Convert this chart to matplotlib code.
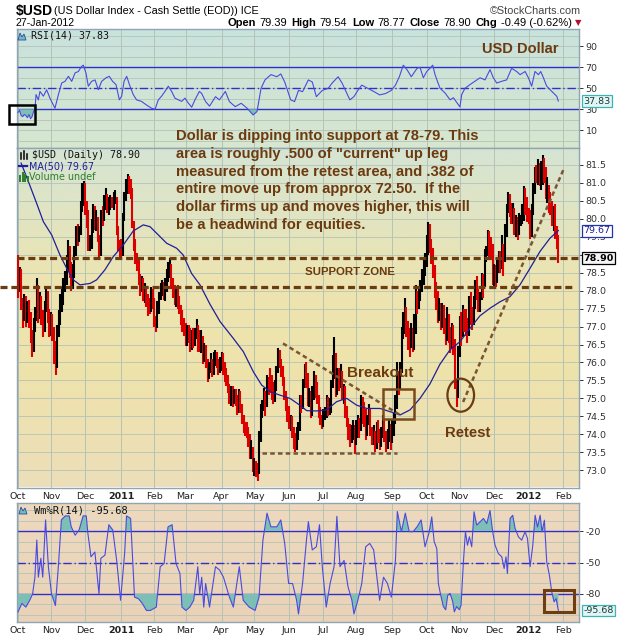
import numpy as np
import pandas as pd
import matplotlib
matplotlib.use("Agg")
import matplotlib.pyplot as plt
from matplotlib.patches import Rectangle, Ellipse, Polygon
from matplotlib.lines import Line2D
from matplotlib.text import Annotation
from matplotlib.colors import to_rgb

W_PX, H_PX, DPI = 620, 639, 100

# ---------------- data ----------------
trade_days = pd.bdate_range("2010-10-01", "2012-01-27")

close = [
    78.10,
    78.45, 77.60, 77.30, 77.65, 77.35,
    77.45, 77.25, 76.70, 76.40, 77.00,
    77.30, 78.10, 77.35, 77.70, 77.25,
    76.95, 77.55, 77.95, 77.30, 76.90,
    77.15, 76.80, 76.40, 75.95, 76.85,
    77.30, 77.75, 77.85, 78.20, 78.35,
    78.85, 79.00, 78.60, 78.30, 78.45,
    79.05, 79.75, 79.45, 79.60, 80.35,
    80.80, 80.95, 80.25, 80.05, 79.20,
    79.35, 79.85, 80.20, 79.95, 80.05,
    79.45, 79.05, 80.10, 80.05, 80.50,
    80.60, 80.35, 80.40, 80.50, 80.45,
    80.55, 80.65, 79.70, 79.35, 79.05,
    79.00, 80.05, 80.65, 81.00, 81.15,
    80.95, 80.70, 79.85, 79.20, 78.95,
    78.85, 78.30, 78.05, 78.30, 77.85,
    78.05, 77.70, 77.60, 77.55, 78.00,
    77.70, 77.10, 76.95, 77.60, 77.90,
    78.05, 78.15, 77.90, 78.10, 78.35,
    78.60, 78.70, 78.20, 77.95, 77.70,
    77.85, 77.75, 77.45, 77.30, 77.00,
    76.95, 76.60, 76.85, 76.75, 76.40,
    76.70, 76.55, 76.80, 77.00, 76.65,
    76.50, 76.65, 76.20, 76.35, 76.00,
    75.70, 75.85, 75.95, 75.80, 76.05,
    76.20, 76.00, 75.85, 75.95, 76.15,
    75.90, 75.70, 75.55, 75.30, 74.95,
    75.20, 74.95, 75.10, 75.05, 74.70,
    75.15, 74.75, 74.45, 74.30, 74.15,
    74.10, 73.85, 73.55, 73.60, 73.05,
    73.10, 73.00, 72.95, 73.95, 74.60,
    74.80, 75.05, 74.80, 75.55, 75.45,
    75.40, 75.20, 75.05, 75.30, 75.75,
    76.20, 76.05, 75.80, 75.55, 75.10,
    74.85, 74.60, 74.25, 74.40, 74.05,
    73.85, 73.70, 74.05, 74.20, 74.95,
    74.80, 75.40, 75.85, 75.55, 74.95,
    75.05, 74.60, 75.10, 75.55, 75.20,
    75.00, 74.60, 74.40, 74.30, 74.50,
    74.65, 74.90, 74.70, 74.85, 75.30,
    75.95, 76.10, 75.20, 75.70, 75.35,
    75.65, 75.05, 75.25, 74.60, 74.40,
    74.15, 73.90, 74.05, 74.20, 73.65,
    74.10, 74.35, 74.15, 74.90, 74.65,
    74.60, 74.05, 74.35, 74.65, 74.10,
    73.90, 74.00, 73.75, 74.15, 74.00,
    73.80, 74.05, 74.30, 73.95, 73.70,
    73.95, 74.20, 73.90, 74.15, 74.35,
    74.85, 75.60, 75.35, 75.80, 76.85,
    77.10, 77.45, 77.00, 76.65, 76.45,
    76.80, 76.55, 76.95, 77.90, 77.65,
    77.85, 78.15, 78.45, 78.65, 78.90,
    79.25, 79.55, 79.35, 78.95, 78.65,
    77.95, 77.80, 77.25, 77.55, 77.05,
    77.45, 77.00, 76.70, 77.25, 76.90,
    76.55, 76.75, 76.50, 75.40, 75.05,
    76.20, 76.95, 76.80, 77.35, 77.20,
    77.10, 76.85, 77.65, 77.40, 77.15,
    77.70, 78.10, 77.95, 77.55, 77.75,
    78.30, 78.10, 79.00, 79.05, 79.50,
    79.35, 79.05, 78.35, 78.45, 78.40,
    78.70, 78.95, 78.75, 79.35, 78.70,
    79.55, 80.25, 80.60, 80.25, 80.15,
    80.20, 79.80, 79.90, 79.70, 79.95,
    80.00, 80.15, 80.65, 80.35, 80.20,
    80.10, 79.65, 80.25, 80.85, 81.30,
    81.20, 81.35, 81.15, 81.35, 81.45,
    81.30, 80.75, 80.85, 80.40, 80.35,
    79.95, 80.20, 79.60, 79.39, 78.90,
]

high = [
    79.00,
    78.65, 78.60, 77.80, 77.90, 77.85,
    77.70, 77.75, 77.40, 76.90, 77.25,
    77.55, 78.35, 78.15, 77.95, 77.85,
    77.45, 77.70, 78.10, 78.00, 77.50,
    77.40, 77.35, 77.00, 76.60, 77.05,
    77.45, 77.90, 78.10, 78.35, 78.55,
    79.00, 79.40, 79.25, 78.80, 78.75,
    79.25, 79.80, 79.85, 79.80, 80.50,
    81.00, 81.05, 81.00, 80.50, 80.25,
    79.55, 80.00, 80.40, 80.35, 80.25,
    80.05, 79.55, 80.25, 80.35, 80.65,
    80.85, 80.70, 80.60, 80.65, 80.60,
    80.75, 80.80, 80.60, 79.80, 79.40,
    79.45, 80.15, 80.75, 81.10, 81.25,
    81.20, 81.10, 80.85, 79.95, 79.45,
    79.05, 78.90, 78.45, 78.40, 78.35,
    78.20, 78.10, 77.90, 77.80, 78.10,
    78.05, 77.80, 77.30, 77.70, 77.95,
    78.20, 78.30, 78.25, 78.35, 78.60,
    78.80, 78.90, 78.75, 78.35, 78.15,
    78.10, 78.15, 77.85, 77.60, 77.45,
    77.25, 77.10, 77.05, 77.05, 76.95,
    76.90, 76.95, 76.95, 77.20, 77.05,
    76.90, 76.90, 76.75, 76.55, 76.50,
    76.10, 76.00, 76.25, 76.10, 76.30,
    76.35, 76.30, 76.10, 76.15, 76.30,
    76.25, 76.00, 75.85, 75.65, 75.40,
    75.35, 75.35, 75.25, 75.25, 75.10,
    75.25, 75.20, 74.85, 74.55, 74.35,
    74.35, 74.20, 74.00, 73.85, 73.65,
    73.35, 73.25, 73.20, 74.10, 74.85,
    74.95, 75.30, 75.20, 75.65, 75.60,
    75.85, 75.65, 75.45, 75.50, 75.90,
    76.40, 76.35, 76.10, 75.90, 75.60,
    75.20, 75.00, 74.80, 74.55, 74.50,
    74.20, 74.05, 74.20, 74.35, 75.10,
    75.10, 75.55, 75.95, 76.00, 75.70,
    75.30, 75.20, 75.35, 75.75, 75.65,
    75.45, 75.10, 74.75, 74.55, 74.70,
    74.75, 75.10, 75.05, 75.00, 75.50,
    76.20, 76.70, 76.25, 75.85, 75.85,
    75.95, 75.75, 75.40, 75.35, 74.80,
    74.45, 74.30, 74.25, 74.40, 74.25,
    74.40, 74.55, 74.45, 75.10, 75.05,
    74.90, 74.70, 74.55, 74.85, 74.70,
    74.20, 74.25, 74.10, 74.35, 74.40,
    74.15, 74.20, 74.55, 74.45, 74.10,
    74.15, 74.40, 74.30, 74.40, 74.60,
    75.10, 76.00, 75.75, 76.00, 77.00,
    77.40, 77.80, 77.55, 77.15, 76.95,
    77.10, 76.95, 77.35, 78.15, 78.00,
    78.10, 78.30, 78.60, 78.90, 79.05,
    79.55, 79.90, 79.85, 79.45, 79.20,
    78.70, 78.25, 78.00, 77.80, 77.65,
    77.65, 77.60, 77.25, 77.55, 77.35,
    77.00, 77.10, 77.05, 76.65, 75.55,
    76.45, 77.30, 77.40, 77.60, 77.50,
    77.50, 77.25, 77.85, 77.95, 77.55,
    77.85, 78.30, 78.40, 78.05, 77.95,
    78.50, 78.45, 79.15, 79.25, 79.70,
    79.65, 79.50, 79.30, 78.75, 78.70,
    78.90, 79.10, 79.10, 79.55, 79.30,
    79.85, 80.40, 80.75, 80.70, 80.45,
    80.45, 80.30, 80.10, 80.05, 80.15,
    80.10, 80.40, 80.90, 80.85, 80.60,
    80.30, 80.25, 80.40, 81.00, 81.45,
    81.50, 81.65, 81.55, 81.60, 81.78,
    81.70, 81.45, 81.15, 80.95, 80.75,
    80.50, 80.35, 80.40, 79.80, 79.54,
]

low = [
    77.80,
    77.95, 77.45, 76.95, 77.15, 77.00,
    77.10, 76.95, 76.55, 76.15, 76.30,
    76.85, 77.15, 77.10, 77.20, 77.05,
    76.70, 76.85, 77.40, 77.10, 76.70,
    76.75, 76.60, 75.95, 75.65, 75.85,
    76.70, 77.05, 77.40, 77.60, 77.95,
    78.15, 78.55, 78.35, 78.00, 78.05,
    78.35, 78.95, 79.25, 79.35, 79.55,
    80.20, 80.35, 80.10, 79.75, 79.10,
    79.10, 79.15, 79.60, 79.70, 79.65,
    79.35, 78.85, 78.95, 79.80, 79.95,
    80.25, 80.15, 80.10, 80.25, 80.30,
    80.25, 80.40, 79.55, 79.10, 78.90,
    78.90, 78.95, 79.95, 80.50, 80.70,
    80.70, 80.55, 79.75, 79.10, 78.75,
    78.55, 78.15, 77.85, 77.95, 77.70,
    77.65, 77.55, 77.30, 77.35, 77.40,
    77.50, 77.00, 76.85, 76.95, 77.35,
    77.75, 77.85, 77.75, 77.70, 77.95,
    78.25, 78.35, 78.05, 77.80, 77.60,
    77.55, 77.50, 77.35, 77.05, 76.85,
    76.75, 76.45, 76.45, 76.55, 76.30,
    76.35, 76.40, 76.45, 76.65, 76.30,
    76.30, 76.25, 75.95, 76.00, 75.85,
    75.45, 75.55, 75.70, 75.60, 75.65,
    75.90, 75.85, 75.65, 75.70, 75.75,
    75.65, 75.45, 75.35, 75.15, 74.85,
    74.80, 74.75, 74.85, 74.80, 74.55,
    74.60, 74.60, 74.30, 74.05, 73.95,
    73.90, 73.65, 73.30, 73.30, 72.95,
    72.85, 72.80, 72.70, 72.90, 73.80,
    74.45, 74.65, 74.50, 74.75, 75.10,
    75.15, 74.95, 74.85, 74.90, 75.20,
    75.70, 75.85, 75.60, 75.35, 74.95,
    74.65, 74.35, 74.15, 74.10, 73.90,
    73.60, 73.50, 73.55, 73.85, 74.10,
    74.60, 74.70, 75.30, 75.30, 74.80,
    74.75, 74.45, 74.50, 74.95, 75.00,
    74.85, 74.45, 74.25, 74.15, 74.20,
    74.40, 74.45, 74.50, 74.55, 74.60,
    75.30, 75.55, 75.05, 75.10, 75.20,
    75.30, 74.95, 74.85, 74.45, 74.20,
    73.85, 73.65, 73.75, 73.85, 73.45,
    73.70, 73.90, 73.90, 74.10, 74.30,
    74.20, 73.85, 73.95, 74.25, 73.95,
    73.70, 73.70, 73.50, 73.60, 73.75,
    73.55, 73.65, 73.90, 73.80, 73.50,
    73.60, 73.80, 73.55, 73.75, 73.95,
    74.30, 74.70, 75.10, 75.25, 75.70,
    76.65, 76.80, 76.70, 76.35, 76.15,
    76.40, 76.30, 76.35, 76.80, 77.35,
    77.50, 77.70, 77.95, 78.15, 78.40,
    78.65, 79.00, 79.05, 78.75, 78.35,
    77.80, 77.45, 77.10, 77.15, 76.90,
    76.95, 76.80, 76.50, 76.60, 76.55,
    76.25, 76.40, 76.20, 75.25, 74.75,
    75.00, 76.15, 76.45, 76.70, 76.85,
    76.75, 76.55, 76.75, 77.05, 76.90,
    77.05, 77.50, 77.75, 77.40, 77.40,
    77.75, 77.80, 78.10, 78.80, 78.95,
    78.85, 78.85, 78.15, 78.10, 78.10,
    78.20, 78.50, 78.50, 78.60, 78.40,
    78.80, 79.50, 80.15, 80.05, 79.85,
    79.85, 79.55, 79.50, 79.40, 79.55,
    79.80, 79.85, 79.95, 80.10, 79.90,
    79.85, 79.45, 79.50, 80.10, 80.70,
    81.00, 80.95, 80.90, 80.80, 80.95,
    81.00, 80.55, 80.45, 80.15, 80.10,
    79.80, 79.65, 79.45, 79.15, 78.77,
]
last_open = 79.39

# 50-day moving average (trading-day index, value)
ma_days = [2, 6.6, 11.9, 16.2, 21.5, 26.8, 31.1, 35.3, 39.6, 46, 50.2, 55.5, 60.9,
           67.2, 73.6, 80, 84.3, 89.6, 94.9, 101.3, 105.5, 110.8, 116.2, 122.6, 129,
           137.5, 143.9, 150.3, 155.6, 160.9, 167.3, 173.7, 180, 184.3, 190.7, 197.1,
           203.5, 209.9, 216.3, 222.7, 231.2, 237.6, 244, 250.3, 256.7, 263, 269.4,
           275.8, 282.2, 288.6, 295, 301.4, 307.8, 314.1, 320.5, 326.9, 333.3, 339.7, 345]
ma_vals = [81.55, 81.04, 80.43, 79.92, 79.55, 78.99, 78.62, 78.30, 78.16, 78.20, 78.30,
           78.58, 78.95, 79.27, 79.66, 79.83, 79.78, 79.55, 79.32, 79.18, 78.99, 78.48,
           78.16, 77.62, 77.14, 76.67, 76.30, 75.74, 75.37, 75.19, 75.09, 75.00, 74.81,
           74.66, 74.65, 74.68, 74.91, 75.00, 74.81, 74.72, 74.72, 74.63, 74.54, 74.68,
           75.00, 75.40, 75.95, 76.35, 76.58, 76.95, 77.30, 77.51, 77.69, 77.83, 78.16,
           78.62, 79.09, 79.46, 79.67]

# RSI(14)
rsi_days = [0, 1, 2, 3, 4, 5, 6, 7, 8, 9, 10, 10.9, 11.5, 13, 14, 16.2, 18.3, 20.4,
            23.6, 25.8, 27.9, 30, 32.2, 34.3, 36.4, 38.5, 40.7, 41.7, 43.4, 44.9, 47,
            49.2, 51.3, 53.4, 56.2, 58.3, 60.4, 62.6, 64.7, 66.2, 67.7, 69.4, 71.5,
            73.6, 75.7, 78.9, 82.1, 85.3, 87.5, 89.6, 91.7, 93.8, 96, 98.1, 100.2,
            102.4, 104.5, 106.6, 108.7, 110.9, 113, 115.8, 117.3, 119.8, 122.3, 126.1,
            128.6, 132.4, 135, 138.7, 142.5, 146.3, 150.1, 152.6, 155.2, 157.7, 161.5,
            165.3, 167.8, 170.3, 174.1, 176.6, 179.1, 181.7, 185.4, 187.9, 190.5,
            194.3, 198.1, 200.6, 204.4, 206.9, 209.4, 211.9, 214.5, 217, 219.5, 223.3,
            227.1, 230.9, 234.7, 238.4, 241, 243.5, 246, 248.5, 251.1, 254.8, 256.7,
            258.8, 261, 263, 264.8, 266.3, 267.8, 269.5, 272.7, 275.9, 278, 282.2,
            283.3, 285.4, 288.6, 291.8, 295, 298.2, 301.4, 303.5, 305.7, 308.9, 312,
            315.2, 318.4, 320.6, 323.8, 325.9, 328, 330.1, 332.3, 333.8, 335.5, 337.6,
            339.7, 341.9, 344, 345]
rsi_vals = [27, 29, 24, 23, 25, 24, 22, 25, 21, 23, 28, 31, 44, 39, 47, 42.5, 48.6, 40.6,
            31, 44, 55, 56.6, 61.4, 56.6, 64.6, 66, 71, 72, 64.6, 52, 56.6,
            58, 48.6, 56.6, 60, 61.4, 56.6, 53.5, 39, 42.5, 56.6, 61.4, 52,
            44, 39, 37.5, 34, 31, 30, 39, 42.5, 47, 52, 47, 40.6,
            39, 37.5, 40.6, 36, 32, 39, 47, 45, 37.3, 33, 42,
            39, 47, 37.3, 32.5, 35.7, 31, 24.6, 27.8, 50, 58, 63,
            61, 63.7, 56, 39, 37.3, 48, 46.8, 58, 56, 42,
            48, 50, 55, 61, 55, 47, 39, 42, 48, 53, 50,
            47, 43.7, 45, 48, 53, 61, 72, 67.5, 61, 69, 70,
            60, 66, 69, 72, 63, 56.7, 50, 45.5, 39, 41, 32.2,
            44, 50, 53.5, 56.7, 60, 58, 67.8, 60, 55, 56.7, 58,
            69, 66, 63, 66, 60, 52, 66, 63, 66, 60, 52,
            48.7, 45.5, 42.4, 37.83]

# Williams %R(14)
wr_days = [0, 2.5, 5, 7.5, 9.3, 10.8, 12, 13, 14.6, 15.8, 17.6, 19.4, 21.4, 23.9, 25.9,
           27.7, 30.2, 32.7, 34, 36.5, 39, 41.6, 43.6, 44.6, 46.6, 49.1, 51.7, 52.9,
           55.5, 58, 60.5, 63, 65.5, 68.1, 69.3, 71.9, 74.4, 76.9, 79.4, 82, 84.5,
           88.3, 90.8, 93.3, 95.8, 98.4, 100.9, 103.4, 104.7, 107.2, 109.7, 112.2,
           114.8, 116, 117.3, 118.6, 119.8, 122.3, 126.1, 128.6, 131.2, 135, 137.5,
           141.3, 143.8, 147.6, 151.4, 153.9, 156.4, 159, 161.5, 165.3, 167.8, 170.3,
           172.8, 175.3, 177.9, 179.1, 181.7, 184.2, 185.4, 187.9, 190.5, 192.5, 194.3,
           196.8, 199.3, 201.8, 203.6, 205.6, 208.2, 210.7, 213.2, 214.5, 217, 219.5,
           222, 224.6, 227.1, 229.6, 230.9, 233.4, 235.9, 238.4, 241, 242.2, 244.8,
           247.3, 249.8, 252.3, 254.8, 257.4, 259.9, 262.4, 264.2, 265.7, 267.4, 268.4,
           269.9, 271.6, 273.1, 274.4, 275.9, 277.6, 278.6, 280.1, 281.8, 282.9, 284.4,
           285.7, 287, 288.2, 289.7, 291.2, 292.9, 295, 297.2, 299.3, 301.4, 303.1,
           304.6, 306.7, 308.9, 310.4, 311.6, 312.5, 314.2, 315.9, 317.4, 319.5, 321.6,
           323.8, 325.3, 327, 328.7, 330.2, 331.7, 333.4, 334.6, 336.1, 337.6, 339.3,
           340.8, 342.3, 343.6, 345]
wr_vals = [-97, -89, -92.5, -86, -80, -64, -28.6, -64, -46, -64, -9.4, -54, -80, -91, -51,
           -9.4, -5.6, -5.6, -16, -24, -19, -5.6, -5.6, -22, -44.6, -40, -80, -46,
           -43, -14, -19, -48, -86, -41, -5.6, -8, -83, -84.5, -89, -95.7, -95.7,
           -92.5, -54, -51, -16, -14, -51, -60.5, -92.5, -95.7, -92.5, -86,
           -54, -80, -64, -92.5, -70, -92.5, -54, -57, -64, -83, -92.5,
           -54, -86, -92.5, -95.7, -83, -28.6, -3, -16, -16, -9.4, -31.8,
           -70, -70, -86, -99, -70, -28.6, -11, -38, -35, -14, -54,
           -92.5, -70, -54, -6, -54, -48, -73, -86, -99, -86, -70,
           -35, -31.8, -38, -70, -86, -64, -70, -83, -48, -1.4, -20.6,
           -3, -20.6, -20.6, -16, -9.4, -35, -22, -6.5, -30, -36.7, -70,
           -81, -92, -95, -81, -79.5, -87.5, -97, -92, -95, -90.6, -49.4,
           -20.6, -33.5, -25.5, -35, -1.7, -14.4, -11.3, -8, -12.9, -0.5, -20.8,
           -33.5, -41.4, -44.6, -55.7, -44.6, -60.5, -8, -5, -17.5, -25.5, -28.7,
           -20.8, -27.1, -54, -33.5, -5, -16.2, -5, -20.8, -9.7, -49.4, -62,
           -78, -87.5, -84.3, -95.68]

# support levels and hand-drawn study lines (trading-day index, price)
support_hi = 78.90
support_lo = 78.10
base_level = 73.48
base_span = (155.6, 241.8)
downtrend = ([169.2, 243.9], [76.53, 74.54])
uptrend = ([284.2, 348.2], [74.90, 81.36])
breakout_box = (232.9, 74.44, 20.2, 0.81)
retest_ring = (282.7, 75.09, 17.0, 0.92)

assert len(close) == len(high) == len(low) == len(trade_days)

close = np.array(close)
high = np.array(high)
low = np.array(low)
x = np.arange(len(close))

tick_span = pd.bdate_range("2010-10-01", "2012-02-29")
month_first = tick_span.to_series().groupby([tick_span.year, tick_span.month]).first()
month_pos = [tick_span.get_loc(d) for d in month_first]
month_lab = [str(d.year) if d.month == 1 else d.strftime("%b") for d in month_first]

# ---------------- figure ----------------
fig = plt.figure(figsize=(W_PX / DPI, H_PX / DPI), dpi=DPI)
fig.patch.set_facecolor("white")


def fx(px):
    return px / W_PX


def fy(py):
    return 1 - py / H_PX


LEFT, RIGHT = 16.7, 579.3
XLIM = (-0.83, 358.4)


def panel(top, bottom):
    return fig.add_axes([fx(LEFT), fy(bottom), (RIGHT - LEFT) / W_PX, (bottom - top) / H_PX])


def gradient(ax, stops):
    pos = np.array([s[0] for s in stops])
    cols = np.array([to_rgb(s[1]) for s in stops])
    t = np.linspace(0, 1, 256)
    img = np.stack([np.interp(t, pos, cols[:, k]) for k in range(3)], axis=-1)[:, None, :]
    ax.imshow(img, extent=[0, 1, 0, 1], transform=ax.transAxes, aspect="auto",
              origin="lower", zorder=-5, interpolation="bilinear")


BROWN = "#6b3a0f"
GRID = "#b4c3b6"
LEVEL = "#3030c8"
STUDY = "#4a4ae0"
FILL = "#7dbfb4"
TICK_SIZE = 6.8


def style_panel(ax, yl, yticks, ylabels, grid_levels, show_x):
    ax.set_facecolor("none")
    for s in ax.spines.values():
        s.set_color("#8fa6b2")
        s.set_linewidth(1.0)
    for g in grid_levels:
        ax.axhline(g, color=GRID, lw=0.6, zorder=0)
    for m in month_pos:
        ax.axvline(m, color=GRID, lw=0.7, zorder=0)
    ax.set_xlim(*XLIM)
    ax.set_ylim(*yl)
    ax.yaxis.tick_right()
    ax.set_yticks(yticks)
    ax.set_yticklabels(ylabels)
    ax.tick_params(axis="y", direction="out", length=3, width=0.7, colors="#333333",
                   labelsize=TICK_SIZE, pad=1.5)
    ax.set_xticks(month_pos)
    if show_x:
        ax.set_xticklabels(month_lab)
        for lab in ax.get_xticklabels():
            lab.set_fontsize(TICK_SIZE)
            lab.set_color("#222222")
            if lab.get_text().isdigit():
                lab.set_fontweight("bold")
    else:
        ax.set_xticklabels([])
    ax.tick_params(axis="x", length=0, pad=3)


def value_tag(ax, value, text, fc, ec, tc, bold=False):
    ax.annotate(text, xy=(1.0, value), xycoords=("axes fraction", "data"), xytext=(3, 0),
                textcoords="offset points", ha="left", va="center", fontsize=TICK_SIZE,
                color=tc, weight="bold" if bold else "normal", annotation_clip=False,
                bbox=dict(boxstyle="square,pad=0.15", fc=fc, ec=ec, lw=0.9), zorder=10)


# ---- RSI panel ----
ax_rsi = panel(29, 148)
gradient(ax_rsi, [(0, "#d7e7cf"), (1, "#c8e2dd")])
rd, rv = np.array(rsi_days), np.array(rsi_vals)
ax_rsi.fill_between(rd, rv, 30, where=rv < 30, interpolate=True, color=FILL, lw=0, zorder=2)
ax_rsi.fill_between(rd, rv, 70, where=rv > 70, interpolate=True, color=FILL, lw=0, zorder=2)
ax_rsi.axhline(70, color=LEVEL, lw=1.0, zorder=1)
ax_rsi.axhline(30, color=LEVEL, lw=1.0, zorder=1)
ax_rsi.axhline(50, color=LEVEL, lw=1.0, ls=(0, (6, 2, 1, 2)), zorder=1)
ax_rsi.plot(rd, rv, color=STUDY, lw=0.8, zorder=3)
style_panel(ax_rsi, (-6.9, 106.5), [10, 30, 50, 70, 90], ["10", "30", "50", "70", "90"],
            range(0, 101, 10), False)
ax_rsi.add_patch(Rectangle((-5.7, 16.3), 16.6, 18.1, fill=False, ec="black", lw=1.8,
                           clip_on=False, zorder=6))
ax_rsi.text(0.895, 0.835, "USD Dollar", transform=ax_rsi.transAxes, ha="center",
            va="center", family="Liberation Sans", weight="bold", fontsize=10.5, color=BROWN)
value_tag(ax_rsi, rsi_vals[-1], f"{rsi_vals[-1]:.2f}", "#e2f5f5", "#3fb3b3", "#1a3a3a")

# ---- price panel ----
ax_px = panel(148, 487.5)
gradient(ax_px, [(0, "#ecdeb9"), (0.35, "#efe3ab"), (0.62, "#ece4b2"), (1, "#d5e4d4")])
prev = np.r_[np.nan, close[:-1]]
bar_col = np.where(close > prev, "black", "#dd0000")
ax_px.vlines(x, low, high, colors=bar_col, linewidth=1.5, zorder=3)
ax_px.plot(ma_days, ma_vals, color="#1f1f99", lw=0.9, zorder=4)

dash_kw = dict(color="#6b3c10", lw=2.3, ls=(0, (2.2, 1.2)), zorder=5, clip_on=False)
ax_px.plot([XLIM[0], XLIM[1]], [support_hi] * 2, **dash_kw)
ax_px.plot([-11.5, 354.4], [support_lo] * 2, **dash_kw)
trend_kw = dict(color="#7b5533", lw=1.8, ls=(0, (1.8, 1.3)), zorder=5)
ax_px.plot(*downtrend, **trend_kw)
ax_px.plot(*uptrend, **trend_kw)
ax_px.plot(base_span, [base_level] * 2, **trend_kw)
bx, by, bw, bh = breakout_box
ax_px.add_patch(Rectangle((bx, by), bw, bh, fill=False, ec="#7a4a1e", lw=1.8, zorder=6))
ex, ey, ew, eh = retest_ring
ax_px.add_patch(Ellipse((ex, ey), ew, eh, fill=False, ec="#6b3c10", lw=1.6, zorder=6))

ax_px.text(211.7, 78.52, "SUPPORT ZONE", ha="center", va="center", family="Liberation Sans",
           weight="bold", fontsize=8.2, color=BROWN, zorder=7)
ax_px.text(231.2, 75.70, "Breakout", ha="center", va="center", family="Liberation Sans",
           weight="bold", fontsize=11, color=BROWN, zorder=7)
ax_px.text(287.4, 74.03, "Retest", ha="center", va="center", family="Liberation Sans",
           weight="bold", fontsize=10.7, color=BROWN, zorder=7)

price_ticks = np.arange(73.0, 81.51, 0.5)
style_panel(ax_px, (72.52, 81.97), price_ticks, [f"{t:.1f}" for t in price_ticks],
            price_ticks, True)
# the closing-price tag sits on top of the 79.0 label
for t, lab in zip(price_ticks, ax_px.get_yticklabels()):
    if abs(t - 79.0) < 1e-6:
        lab.set_visible(False)

value_tag(ax_px, ma_vals[-1], f"{ma_vals[-1]:.2f}", "white", "#2233aa", "#1f1f99")
value_tag(ax_px, close[-1], f"{close[-1]:.2f}", "#f4f4f4", "black", "black", bold=True)

# ---- Williams %R panel ----
ax_wr = panel(503.3, 621.7)
gradient(ax_wr, [(0, "#e9d2b8"), (1, "#eed9bf")])
wd, wv = np.array(wr_days), np.array(wr_vals)
ax_wr.fill_between(wd, wv, -20, where=wv > -20, interpolate=True, color=FILL, lw=0, zorder=2)
ax_wr.fill_between(wd, wv, -80, where=wv < -80, interpolate=True, color=FILL, lw=0, zorder=2)
ax_wr.axhline(-20, color=LEVEL, lw=1.0, zorder=1)
ax_wr.axhline(-80, color=LEVEL, lw=1.0, zorder=1)
ax_wr.axhline(-50, color=LEVEL, lw=1.0, ls=(0, (6, 2, 1, 2)), zorder=1)
ax_wr.plot(wd, wv, color=STUDY, lw=0.8, zorder=3)
style_panel(ax_wr, (-106.4, 6.4), [-20, -50, -80], ["-20", "-50", "-80"],
            range(-100, 1, 10), True)
ax_wr.add_patch(Rectangle((335.9, -97.4), 19.1, 21.2, fill=False, ec="#6e3d10", lw=2.2,
                          zorder=6))
value_tag(ax_wr, wr_vals[-1], f"{wr_vals[-1]:.2f}", "#e2f5f5", "#3fb3b3", "#1a3a3a")

# ---- panel legends ----
MONO = "DejaVu Sans Mono"
fig.add_artist(Polygon([(fx(18), fy(40)), (fx(20), fy(33)), (fx(22), fy(37)), (fx(24), fy(34)),
                        (fx(26), fy(40))], closed=True, fc="#6cc0b8", ec="#3344aa", lw=0.6))
fig.text(fx(31), fy(36), f"RSI(14) {rsi_vals[-1]:.2f}", family=MONO, fontsize=7.2,
         color="#111111", va="center")
for bx0, h0 in [(20.5, 6), (23.5, 8), (26.5, 5)]:
    fig.add_artist(Line2D([fx(bx0), fx(bx0)], [fy(159), fy(159 - h0)], color="black", lw=1.1))
fig.text(fx(31.5), fy(155.5), f"$USD (Daily) {close[-1]:.2f}", family=MONO, fontsize=7.2,
         color="#111111", va="center")
fig.add_artist(Line2D([fx(19.5), fx(27)], [fy(166.3)] * 2, color="#1f1f99", lw=1.6))
fig.text(fx(29), fy(166.3), f"MA(50) {ma_vals[-1]:.2f}", family="DejaVu Sans", fontsize=6.9,
         color="#1f1f99", va="center")
for bx0, h0 in [(20, 5), (22.5, 8), (25, 6), (27.5, 4)]:
    fig.add_artist(Line2D([fx(bx0), fx(bx0)], [fy(180.5), fy(180.5 - h0)], color="#2e7d2e",
                          lw=1.4))
fig.text(fx(29), fy(176.7), "Volume undef", family="DejaVu Sans", fontsize=6.9,
         color="#2e7d2e", va="center")
fig.add_artist(Polygon([(fx(19), fy(514)), (fx(21), fy(507)), (fx(23), fy(511)), (fx(25), fy(508)),
                        (fx(27), fy(514))], closed=True, fc="#6cc0b8", ec="#3344aa", lw=0.6))
fig.text(fx(34), fy(510.5), f"Wm%R(14) {wr_vals[-1]:.2f}", family=MONO, fontsize=7.5,
         color="#111111", va="center")

# ---- commentary ----
comment = [
    "Dollar is dipping into support at 78-79. This",
    "area is roughly .500 of \"current\" up leg",
    "measured from the retest area, and .382 of",
    "entire move up from approx 72.50.  If the",
    "dollar firms up and moves higher, this will",
    "be a headwind for equities.",
]
for k, line in enumerate(comment):
    fig.text(fx(176.5), fy(136 + 17.8 * k), line, family="Liberation Sans", weight="bold",
             fontsize=10.6, color=BROWN, va="center", ha="left", zorder=8)

# ---- header ----
HEAD = ["Liberation Sans", "DejaVu Sans"]
fig.text(fx(15.5), fy(10.5), "$USD", family=HEAD, weight="bold", fontsize=10,
         color="black", va="center")
fig.text(fx(54.5), fy(11), "(US Dollar Index - Cash Settle (EOD)) ICE", family=HEAD,
         fontsize=7.8, color="black", va="center")
fig.text(fx(581), fy(10.5), "\u00a9StockCharts.com", family=HEAD, fontsize=7.8,
         color="#444444", va="center", ha="right")
fig.text(fx(15.5), fy(23.5), trade_days[-1].strftime("%d-%b-%Y"), family=HEAD,
         fontsize=7.6, color="black", va="center")

chg = close[-1] - close[-2]
pct = chg / close[-2] * 100
pieces = [("Open", True), (f"{last_open:.2f}", False), ("High", True), (f"{high[-1]:.2f}", False),
          ("Low", True), (f"{low[-1]:.2f}", False), ("Close", True), (f"{close[-1]:.2f}", False),
          ("Chg", True), (f"{chg:.2f} ({pct:.2f}%)", False)]
prev_txt = fig.text(fx(581), fy(27.5), "\u25bc", family=["DejaVu Sans"], fontsize=6,
                    color="#b0102a", ha="right", va="bottom")
for k, (s, bold) in enumerate(reversed(pieces)):
    gap = 2.0 if k == 0 else (2.2 if bold else 3.6)
    ann = Annotation(s, xy=(0, 0), xycoords=prev_txt, xytext=(-gap, 0),
                     textcoords="offset points", ha="right", va="bottom", family=HEAD,
                     fontsize=8.0, weight="bold" if bold else "normal", color="black")
    fig.add_artist(ann)
    prev_txt = ann

fig.savefig("out.png", dpi=DPI)
